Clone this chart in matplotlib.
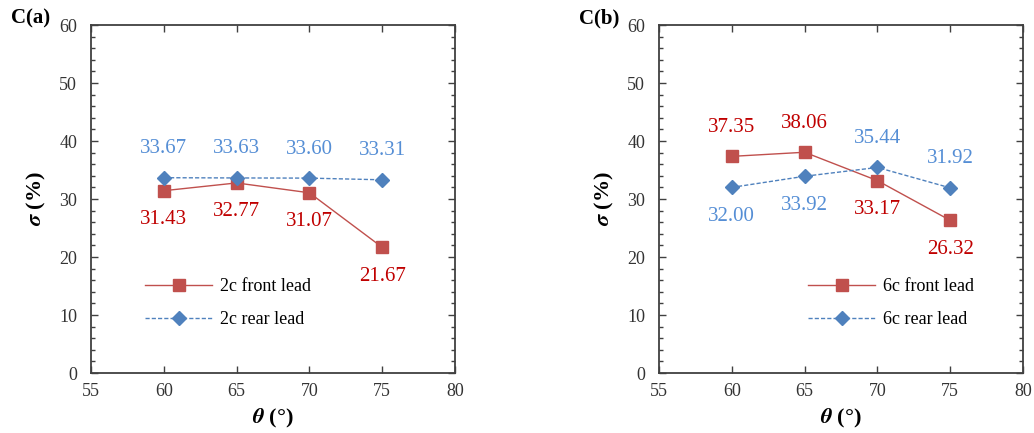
#sigma vs theta for front/rear lead, two panels
import matplotlib
matplotlib.use('Agg')
import matplotlib.pyplot as plt
from matplotlib.ticker import MultipleLocator

plt.rcParams['font.family'] = ['Liberation Serif', 'DejaVu Serif']
plt.rcParams['mathtext.fontset'] = 'stix'

theta = [60, 65, 70, 75]

# panel a, 2c
front_a = [31.43, 32.77, 31.07, 21.67]
rear_a = [33.67, 33.63, 33.60, 33.31]
# panel b, 6c
front_b = [37.35, 38.06, 33.17, 26.32]
rear_b = [32.00, 33.92, 35.44, 31.92]

# label above (+1) or below (-1) each point
front_a_side = [-1, -1, -1, -1]
rear_a_side = [1, 1, 1, 1]
front_b_side = [1, 1, -1, -1]
rear_b_side = [-1, -1, 1, 1]

RED = '#C0504D'
BLUE = '#4F81BD'
RED_TXT = '#C00000'
BLUE_TXT = '#558ED5'
AXC = '#404040'


# draw one panel
# @param ax The axis object
def draw_panel(ax, front, rear, fside, rside, tag, names, legx):
    ax.plot(theta, front, color=RED, linewidth=1.0, marker='s', markersize=9,
            markerfacecolor=RED, markeredgecolor=RED, label=names[0], zorder=3)
    ax.plot(theta, rear, color=BLUE, linewidth=1.0, linestyle=(0, (3, 1.5)), marker='D',
            markersize=7, markerfacecolor=BLUE, markeredgecolor=BLUE, label=names[1], zorder=3)

    for x, v, s in zip(theta, front, fside):
        ax.text(x, v + 5 * s, '%.2f' % v, color=RED_TXT, fontsize=15,
                ha='center', va='center')
    for x, v, s in zip(theta, rear, rside):
        ax.text(x, v + 5 * s, '%.2f' % v, color=BLUE_TXT, fontsize=15,
                ha='center', va='center')

    ax.set_xlim(55, 80)
    ax.set_ylim(0, 60)
    ax.xaxis.set_major_locator(MultipleLocator(5))
    ax.yaxis.set_major_locator(MultipleLocator(10))
    ax.yaxis.set_minor_locator(MultipleLocator(2))
    ax.tick_params(which='both', direction='in', top=True, right=True,
                   colors=AXC, labelcolor='#333333', labelsize=13)
    ax.tick_params(which='major', length=5, width=1.0)
    ax.tick_params(which='minor', length=3, width=1.0)
    ax.tick_params(axis='x', pad=7)
    ax.tick_params(axis='y', pad=10)
    for sp in ax.spines.values():
        sp.set_color(AXC)
        sp.set_linewidth(1.3)

    ax.set_xlabel(r'$\boldsymbol{\theta}$ (°)', fontsize=16, fontweight='bold', labelpad=5)
    ax.set_ylabel(r'$\boldsymbol{\sigma}$ (%)', fontsize=16, fontweight='bold', labelpad=8)

    ax.legend(loc='center left', bbox_to_anchor=(legx, 0.201), frameon=False,
              fontsize=13, handlelength=3.7, handletextpad=0.45, labelspacing=0.9)

    ax.text(-0.22, 1.02, tag, transform=ax.transAxes, fontsize=15, fontweight='bold',
            ha='left', va='center')


if (__name__ == '__main__'):
    fig = plt.figure(figsize=(10.34, 4.33), dpi=100)
    ax1 = fig.add_axes([91 / 1034, 60 / 433, 364 / 1034, 348 / 433])
    ax2 = fig.add_axes([659 / 1034, 60 / 433, 364 / 1034, 348 / 433])

    draw_panel(ax1, front_a, rear_a, front_a_side, rear_a_side, 'C(a)',
               ['2c front lead', '2c rear lead'], 0.105)
    draw_panel(ax2, front_b, rear_b, front_b_side, rear_b_side, 'C(b)',
               ['6c front lead', '6c rear lead'], 0.366)

    plt.savefig('out.png', dpi=100)
